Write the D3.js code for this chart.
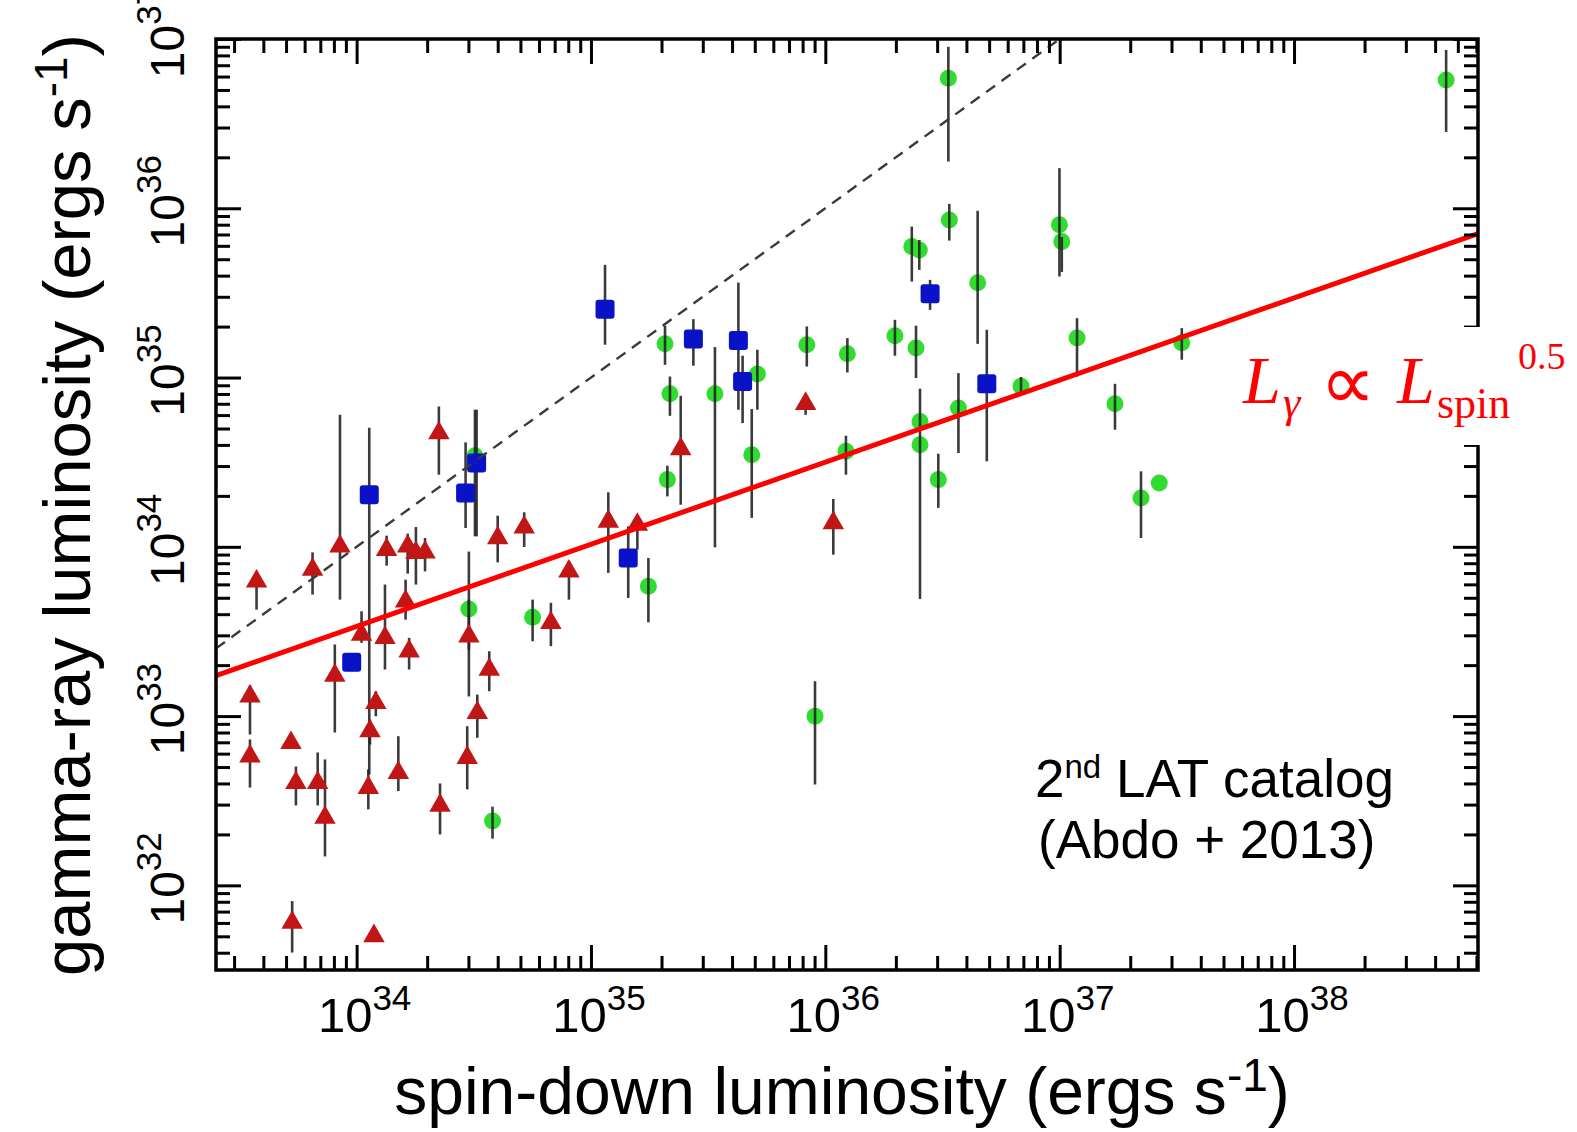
<!DOCTYPE html>
<html>
<head>
<meta charset="utf-8">
<script src="https://cdn.jsdelivr.net/npm/d3@7"></script>
<style>
  html, body { margin: 0; padding: 0; background: #fff; }
  svg { display: block; }
</style>
</head>
<body>
<svg id="chart" width="1577" height="1132"></svg>
<script>
// all values are log10 of luminosity (ergs/s)
// red triangles
const redLsd = [33.573, 33.812, 33.929, 34.128, 34.218, 34.253, 34.292, 34.351, 34.602, 34.715, 35.074, 35.198, 34.906, 34.829, 34.209, 34.224, 34.021, 34.121, 33.907, 34.479, 34.566, 33.545, 33.545, 33.720, 33.741, 33.834, 33.865, 34.057, 34.082, 34.050, 34.178, 34.356, 34.472, 34.515, 33.725, 34.074, 35.383, 35.916, 36.034];
const redLg  = [33.796, 33.865, 34.003, 33.983, 34.003, 33.964, 33.967, 34.672, 34.052, 34.115, 34.150, 34.131, 33.855, 33.551, 33.678, 33.383, 33.482, 33.462, 33.240, 33.472, 33.275, 33.117, 32.763, 32.842, 32.606, 32.606, 32.400, 32.911, 33.078, 32.577, 32.665, 32.472, 32.754, 33.019, 31.780, 31.701, 34.578, 34.845, 34.141];
const redLo  = [33.629, 33.718, 33.688, 33.889, 33.842, 33.777, 33.855, 34.426, 33.908, 33.999, 33.846, 33.983, 33.688, 33.413, 33.570, 33.275, 33.433, 33.275, 32.903, 33.116, 33.147, 32.891, 32.578, 32.842, 32.472, 32.472, 32.171, 32.832, 32.999, 32.449, 32.557, 32.301, 32.567, 32.872, 31.603, 31.701, 34.249, 34.780, 33.954];
const redHi  = [33.855, 33.967, 34.780, 34.066, 34.078, 34.117, 34.052, 34.829, 34.184, 34.204, 34.322, 34.180, 33.914, 33.669, 33.806, 33.462, 33.619, 33.777, 33.423, 33.688, 33.383, 33.181, 32.862, 32.842, 32.702, 32.785, 32.744, 32.980, 33.147, 32.685, 32.881, 32.602, 32.940, 33.127, 31.907, 31.701, 34.892, 34.888, 34.283];

// green circles
const greenLsd = [34.505, 34.479, 34.751, 34.580, 35.245, 35.316, 35.337, 35.326, 35.529, 35.710, 35.686, 35.921, 36.094, 36.088, 35.956, 36.297, 36.387, 36.369, 36.401, 36.525, 36.529, 36.650, 36.404, 36.404, 36.568, 36.482, 36.835, 36.999, 37.009, 37.074, 37.236, 37.347, 37.425, 37.521, 38.649];
const greenLg  = [34.538, 33.633, 33.584, 32.380, 33.767, 35.199, 34.904, 34.397, 34.904, 35.021, 34.544, 35.194, 35.140, 34.564, 32.999, 35.247, 35.174, 35.774, 35.754, 36.768, 35.931, 35.560, 34.741, 34.603, 34.820, 34.397, 34.949, 35.902, 35.803, 35.233, 34.845, 34.289, 34.377, 35.205, 36.758];
const greenLo  = [34.062, 33.393, 33.442, 32.276, 33.554, 35.075, 34.774, 34.298, 33.997, 34.810, 34.171, 35.065, 35.030, 34.426, 32.596, 35.129, 34.997, 35.567, 35.636, 36.276, 35.809, 35.199, 33.692, 34.603, 34.554, 34.230, 34.898, 35.597, 35.624, 35.006, 34.692, 34.052, 34.377, 35.105, 36.451];
const greenHi  = [34.810, 33.972, 33.688, 32.465, 33.934, 35.306, 35.006, 34.479, 35.180, 35.164, 34.814, 35.302, 35.233, 34.656, 33.206, 35.341, 35.306, 35.892, 35.813, 36.954, 36.026, 35.985, 34.934, 34.603, 35.026, 34.550, 35.003, 36.237, 35.830, 35.351, 34.963, 34.446, 34.377, 35.292, 36.935];

// blue squares
const blueLsd = [34.054, 33.979, 34.465, 34.512, 35.060, 35.159, 35.437, 35.629, 35.647, 36.447, 36.689];
const blueLg  = [34.308, 33.318, 34.318, 34.495, 35.404, 33.934, 35.227, 35.219, 34.977, 35.495, 34.963];
const blueLo  = [32.655, 33.318, 34.111, 34.062, 35.194, 33.698, 35.070, 34.810, 34.731, 35.400, 34.505];
const blueHi  = [34.704, 33.318, 34.617, 34.810, 35.666, 34.121, 35.345, 35.561, 35.129, 35.577, 35.282];

// axis ranges and labelled decades
const xExtent = [33.4, 38.785];
const yExtent = [31.5, 37];
const xLabelExps = [34, 35, 36, 37, 38];
const yLabelExps = [32, 33, 34, 35, 36, 37];

// power-law fit: log Lg = fitNorm + fitSlope * (log Lsd - 34)
const fitNorm = 33.53;
const fitSlope = 0.485;

const frame = {left: 216, right: 1478, top: 39, bottom: 970};
const svg = d3.select("#chart");

const x = d3.scaleLog().domain(xExtent.map(e => 10 ** e)).range([frame.left, frame.right]);
const y = d3.scaleLog().domain(yExtent.map(e => 10 ** e)).range([frame.bottom, frame.top]);

function rows(lsd, lg, lo, hi) {
    return lsd.map((v, i) => ({x: 10 ** v, y: 10 ** lg[i], lo: 10 ** lo[i], hi: 10 ** hi[i]}));
}
const red = rows(redLsd, redLg, redLo, redHi);
const green = rows(greenLsd, greenLg, greenLo, greenHi);
const blue = rows(blueLsd, blueLg, blueLo, blueHi);

svg.append("defs").append("clipPath").attr("id", "plot")
    .append("rect")
    .attr("x", frame.left).attr("y", frame.top)
    .attr("width", frame.right - frame.left).attr("height", frame.bottom - frame.top);

const plot = svg.append("g").attr("clip-path", "url(#plot)");

// green circles
plot.append("g").selectAll("circle")
    .data(green)
    .enter().append("circle")
    .attr("cx", d => x(d.x))
    .attr("cy", d => y(d.y))
    .attr("r", 8.5)
    .attr("fill", "#30dc30");

// error bars
const allPts = red.concat(green, blue).filter(d => d.hi > d.lo);
plot.append("g").selectAll("line")
    .data(allPts)
    .enter().append("line")
    .attr("x1", d => x(d.x)).attr("x2", d => x(d.x))
    .attr("y1", d => y(d.lo)).attr("y2", d => y(d.hi))
    .attr("stroke", "#262626")
    .attr("stroke-width", 2.6)
    .attr("opacity", 0.9);

// red triangles
plot.append("g").selectAll("path")
    .data(red)
    .enter().append("path")
    .attr("d", d3.symbol().type(d3.symbolTriangle).size(200))
    .attr("transform", d => `translate(${x(d.x)},${y(d.y)})`)
    .attr("fill", "#c21616");

// blue squares
plot.append("g").selectAll("rect")
    .data(blue)
    .enter().append("rect")
    .attr("x", d => x(d.x) - 9.5)
    .attr("y", d => y(d.y) - 9.5)
    .attr("width", 19).attr("height", 19)
    .attr("rx", 3)
    .attr("fill", "#0a12c8");

// L_gamma = L_sd
const ends = xExtent.map(e => 10 ** e);
plot.append("line")
    .attr("x1", x(ends[0])).attr("y1", y(ends[0]))
    .attr("x2", x(ends[1])).attr("y2", y(ends[1]))
    .attr("stroke", "#3a3a3a")
    .attr("stroke-width", 2.4)
    .attr("stroke-dasharray", "11,8");

// power-law fit
const fitY = e => 10 ** (fitNorm + fitSlope * (e - 34));
plot.append("line")
    .attr("x1", x(ends[0])).attr("y1", y(fitY(xExtent[0])))
    .attr("x2", x(ends[1])).attr("y2", y(fitY(xExtent[1])))
    .attr("stroke", "#ff0000")
    .attr("stroke-width", 5);

// frame
svg.append("rect")
    .attr("x", frame.left).attr("y", frame.top)
    .attr("width", frame.right - frame.left).attr("height", frame.bottom - frame.top)
    .attr("fill", "none")
    .attr("stroke", "#000")
    .attr("stroke-width", 3.5);

// ticks on all four sides, pointing inward
const isMajor = v => Math.abs(Math.log10(v) - Math.round(Math.log10(v))) < 1e-6;
const xMinor = x.ticks().filter(v => !isMajor(v));
const xMajor = x.ticks().filter(isMajor);
const yMinor = y.ticks().filter(v => !isMajor(v));
const yMajor = y.ticks().filter(isMajor);

function tickAxis(axisFn, scale, values, size, tx, ty) {
    const g = svg.append("g")
        .attr("transform", `translate(${tx},${ty})`)
        .call(axisFn(scale).tickValues(values).tickSize(size).tickFormat(""));
    g.select(".domain").remove();
    g.selectAll(".tick line").attr("stroke", "#000").attr("stroke-width", 3);
}
tickAxis(d3.axisBottom, x, xMinor, -14, 0, frame.bottom);
tickAxis(d3.axisBottom, x, xMajor, -25, 0, frame.bottom);
tickAxis(d3.axisTop, x, xMinor, -14, 0, frame.top);
tickAxis(d3.axisTop, x, xMajor, -25, 0, frame.top);
tickAxis(d3.axisLeft, y, yMinor, -14, frame.left, 0);
tickAxis(d3.axisLeft, y, yMajor, -25, frame.left, 0);
tickAxis(d3.axisRight, y, yMinor, -14, frame.right, 0);
tickAxis(d3.axisRight, y, yMajor, -25, frame.right, 0);

const sans = "'Liberation Sans', Arial, Helvetica, sans-serif";
const serif = "'Liberation Serif', 'Times New Roman', serif";

// tick labels, 10^n
svg.append("g").selectAll("text")
    .data(xLabelExps)
    .enter().append("text")
    .attr("x", d => x(10 ** d) + 8)
    .attr("y", 1032)
    .attr("text-anchor", "middle")
    .style("font-family", sans)
    .style("font-size", "49px")
    .each(function (d) {
        const t = d3.select(this);
        t.append("tspan").text("10");
        t.append("tspan").attr("dy", -22).style("font-size", "35px").text(d);
    });

svg.append("g").selectAll("text")
    .data(yLabelExps)
    .enter().append("text")
    .attr("transform", d => `translate(184,${y(10 ** d)}) rotate(-90)`)
    .attr("x", 7)
    .attr("text-anchor", "middle")
    .style("font-family", sans)
    .style("font-size", "48px")
    .each(function (d) {
        const t = d3.select(this);
        t.append("tspan").text("10");
        t.append("tspan").attr("dy", -23).style("font-size", "35px").text(d);
    });

// axis titles
function unitTitle(sel, label) {
    sel.append("tspan").text(label);
    sel.append("tspan").attr("dy", -23).style("font-size", "46px").text("-1");
    sel.append("tspan").attr("dy", 23).text(")");
}
svg.append("text")
    .attr("x", 842).attr("y", 1114)
    .attr("text-anchor", "middle")
    .style("font-family", sans).style("font-size", "66px")
    .call(unitTitle, "spin-down luminosity (ergs s");

svg.append("text")
    .attr("transform", "translate(90,505) rotate(-90)")
    .attr("text-anchor", "middle")
    .style("font-family", sans).style("font-size", "67px")
    .call(unitTitle, "gamma-ray luminosity (ergs s");

// catalog note
const note = svg.append("text")
    .attr("x", 1035).attr("y", 797)
    .style("font-family", sans).style("font-size", "53px");
note.append("tspan").text("2");
note.append("tspan").attr("dy", -19).style("font-size", "33px").text("nd");
note.append("tspan").attr("dy", 19).text(" LAT catalog");
svg.append("text")
    .attr("x", 1038).attr("y", 858)
    .style("font-family", sans).style("font-size", "53px")
    .text("(Abdo + 2013)");

// formula, its box hides part of the right axis
svg.append("rect")
    .attr("x", 1445).attr("y", 327)
    .attr("width", 60).attr("height", 118)
    .attr("fill", "#fff");

const formula = svg.append("g")
    .attr("fill", "#ff0000")
    .style("font-family", serif);
formula.append("text").attr("x", 1243).attr("y", 403)
    .style("font-size", "68px").style("font-style", "italic").text("L");
formula.append("text").attr("x", 1283).attr("y", 417)
    .style("font-size", "44px").style("font-style", "italic").text("γ");
formula.append("text").attr("x", 1320).attr("y", 409)
    .style("font-size", "78px").text("∝");
formula.append("text").attr("x", 1397).attr("y", 403)
    .style("font-size", "68px").style("font-style", "italic").text("L");
formula.append("text").attr("x", 1437).attr("y", 418)
    .style("font-size", "44px").text("spin");
formula.append("text").attr("x", 1518).attr("y", 369)
    .style("font-size", "38px").text("0.5");
</script>
</body>
</html>
